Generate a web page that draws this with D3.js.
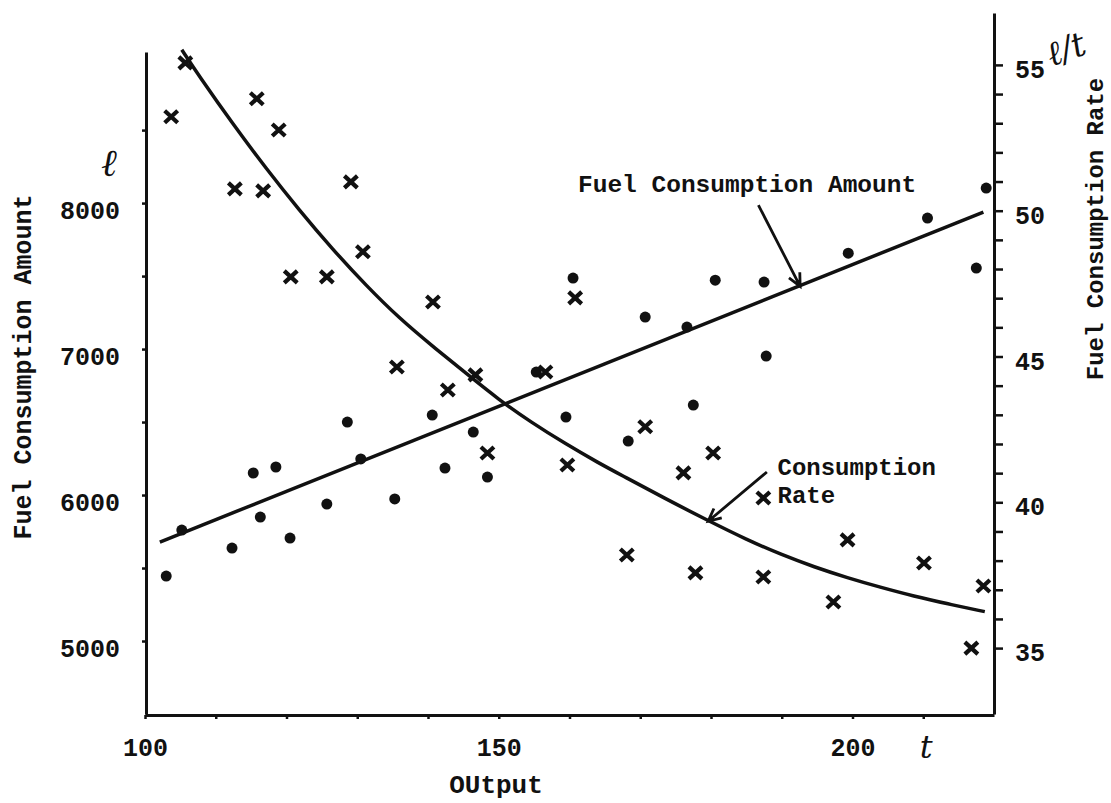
<!DOCTYPE html>
<html>
<head>
<meta charset="utf-8">
<script src="https://cdn.jsdelivr.net/npm/d3@7"></script>
<style>
    body { margin: 0; background: #fff; }
    text { font-family: "Liberation Mono", monospace; font-weight: bold; fill: #111; }
    .unit { font-family: "DejaVu Serif", serif; font-style: italic; font-weight: normal; }
</style>
</head>
<body>
<svg id="canvas" width="1111" height="803"></svg>
<script>
// observed points: fuel consumption amount (l), left axis
let amountOutput = [103.0, 105.2, 112.3, 115.3, 116.3, 118.5, 120.5, 125.7, 128.6, 130.5,
    135.3, 140.6, 142.4, 146.4, 148.4, 155.3, 159.5, 160.5, 168.3, 170.7,
    176.6, 177.5, 180.6, 187.5, 187.8, 199.4, 210.6, 217.5, 218.9];
let amountValues = [5445, 5760, 5637, 6151, 5849, 6192, 5705, 5938, 6500, 6247,
    5973, 6548, 6185, 6431, 6123, 6842, 6534, 7486, 6370, 7219,
    7151, 6616, 7472, 7459, 6952, 7657, 7897, 7555, 8103];

// observed points: fuel consumption rate (l/t), right axis
let rateOutput = [103.7, 105.7, 115.8, 118.9, 112.7, 116.7, 129.1, 130.8, 120.6, 125.7,
    135.6, 140.7, 142.8, 146.7, 148.4, 156.6, 159.7, 160.8, 170.7, 176.1,
    180.3, 168.1, 177.8, 187.4, 187.4, 199.3, 197.3, 210.1, 218.5, 216.8];
let rateValues = [53.22, 55.07, 53.84, 52.77, 50.75, 50.68, 50.99, 48.59, 47.73, 47.73,
    44.64, 46.87, 43.85, 44.37, 41.69, 44.47, 41.28, 47.01, 42.59, 41.01,
    41.69, 38.19, 37.58, 40.15, 37.44, 38.71, 36.58, 37.92, 37.13, 35.00];

// fitted amount line
let amountFitOutput = [102.1, 218.5];
let amountFitValues = [5678, 7938];

// fitted rate curve
let rateFitOutput = [105.2, 107.7, 112.4, 117.2, 121.8, 126.5, 131.3, 135.9, 140.6, 145.4,
    150.0, 154.6, 159.4, 164.1, 167.9, 173.5, 179.2, 185.2, 189.9, 194.6,
    199.3, 203.9, 208.7, 213.4, 218.7];
let rateFitValues = [55.52, 54.60, 52.98, 51.42, 50.02, 48.68, 47.42, 46.32, 45.36, 44.42,
    43.52, 42.74, 42.01, 41.35, 40.86, 40.13, 39.42, 38.70, 38.21, 37.78,
    37.41, 37.09, 36.78, 36.52, 36.25];

// ticks
let outputTicks = [100, 110, 120, 130, 140, 150, 160, 170, 180, 190, 200, 210];
let outputLabels = [100, 150, 200];
let amountTicks = [5000, 5500, 6000, 6500, 7000, 7500, 8000, 8500];
let amountLabels = [5000, 6000, 7000, 8000];
let rateTicks = d3.range(35, 56);
let rateLabels = [35, 40, 45, 50, 55];

let canvas = d3.select("#canvas");

let xScale = d3.scaleLinear().domain([100, 220]).range([145, 994]);
let yAmount = d3.scaleLinear().domain([4500, 9035]).range([714, 52]);
let yRate = d3.scaleLinear().domain([32.74, 56.78]).range([714, 13]);

// axes
let xAxis = d3.axisBottom(xScale)
    .tickValues(outputTicks)
    .tickSize(4).tickSizeOuter(0).tickPadding(14)
    .tickFormat((d) => outputLabels.includes(d) ? d : '');
let leftAxis = d3.axisLeft(yAmount)
    .tickValues(amountTicks)
    .tickSize(4).tickSizeOuter(0).tickPadding(22)
    .tickFormat((d) => amountLabels.includes(d) ? d : '');
let rightAxis = d3.axisRight(yRate)
    .tickValues(rateTicks)
    .tickSize(9).tickSizeOuter(0).tickPadding(12)
    .tickFormat((d) => rateLabels.includes(d) ? d : '');

let gx = canvas.append('g').attr('transform', 'translate(0,715)').call(xAxis);
let gl = canvas.append('g').attr('transform', 'translate(146,0)').call(leftAxis);
let gr = canvas.append('g').attr('transform', 'translate(994,0)').call(rightAxis);

[gx, gl, gr].forEach((g) => {
    g.attr('font-size', null).attr('font-family', null);
    g.select('.domain').attr('stroke', '#111').attr('stroke-width', 3);
    g.selectAll('.tick line').attr('stroke', '#111').attr('stroke-width', 2.5);
    g.selectAll('.tick text')
        .attr('fill', '#111')
        .style('font-size', '25px');
});
gx.selectAll('.tick text').attr('dy', '0.9em');
gl.selectAll('.tick text').attr('dy', '0.6em');
gr.selectAll('.tick text').attr('dy', '0.5em');

// fitted curves
let amountLine = d3.line()
    .x((d, i) => xScale(amountFitOutput[i]))
    .y((d, i) => yAmount(amountFitValues[i]));
canvas.append('path')
    .attr('d', amountLine(amountFitOutput))
    .attr('fill', 'none').attr('stroke', '#111').attr('stroke-width', 3.5);

let rateLine = d3.line()
    .curve(d3.curveBasis)
    .x((d, i) => xScale(rateFitOutput[i]))
    .y((d, i) => yRate(rateFitValues[i]));
canvas.append('path')
    .attr('d', rateLine(rateFitOutput))
    .attr('fill', 'none').attr('stroke', '#111').attr('stroke-width', 3.5);

// points
canvas.selectAll('.dot')
    .data(amountOutput)
    .enter()
    .append('circle')
    .attr('class', 'dot')
    .attr('cx', (d) => xScale(d))
    .attr('cy', (d, i) => yAmount(amountValues[i]))
    .attr('r', 5.5)
    .attr('fill', '#111');

canvas.selectAll('.cross')
    .data(rateOutput)
    .enter()
    .append('path')
    .attr('class', 'cross')
    .attr('transform', (d, i) => 'translate(' + xScale(d) + ',' + yRate(rateValues[i]) + ')')
    .attr('d', 'M-6.5,-6L6.5,6M6.5,-6L-6.5,6')
    .attr('stroke', '#111').attr('stroke-width', 4.2);

// annotation arrows
let arrow = (x1, y1, x2, y2) => {
    let a = Math.atan2(y2 - y1, x2 - x1);
    let len = 14, spread = 0.45;
    canvas.append('path')
        .attr('d', 'M' + x1 + ',' + y1 + 'L' + x2 + ',' + y2 +
            'M' + (x2 - len * Math.cos(a - spread)) + ',' + (y2 - len * Math.sin(a - spread)) +
            'L' + x2 + ',' + y2 +
            'L' + (x2 - len * Math.cos(a + spread)) + ',' + (y2 - len * Math.sin(a + spread)))
        .attr('fill', 'none').attr('stroke', '#111').attr('stroke-width', 2.8);
};
arrow(xScale(186.7), yAmount(7986), xScale(192.6), yAmount(7430));
arrow(xScale(187.9), yRate(41.04), xScale(179.6), yRate(39.35));

canvas.append('text')
    .attr('x', xScale(161.2)).attr('y', yAmount(8075))
    .style('font-size', '24.5px')
    .text('Fuel Consumption Amount');
canvas.append('text')
    .attr('x', xScale(189.4)).attr('y', yRate(40.94))
    .style('font-size', '24px')
    .text('Consumption');
canvas.append('text')
    .attr('x', xScale(189.4)).attr('y', yRate(39.98))
    .style('font-size', '24px')
    .text('Rate');

// axis titles and units
canvas.append('text')
    .attr('transform', 'translate(31,367) rotate(-90)')
    .attr('text-anchor', 'middle')
    .style('font-size', '25px')
    .text('Fuel Consumption Amount');
canvas.append('text')
    .attr('transform', 'translate(1103,229) rotate(-90)')
    .attr('text-anchor', 'middle')
    .style('font-size', '24px')
    .text('Fuel Consumption Rate');
canvas.append('text')
    .attr('x', 496).attr('y', 793)
    .attr('text-anchor', 'middle')
    .style('font-size', '26px')
    .text('OUtput');

canvas.append('text').attr('class', 'unit')
    .attr('x', 109).attr('y', 176)
    .attr('text-anchor', 'middle')
    .style('font-size', '38px')
    .text('ℓ');
canvas.append('text').attr('class', 'unit')
    .attr('transform', 'translate(1070,60) rotate(-20)')
    .attr('text-anchor', 'middle')
    .style('font-size', '34px')
    .text('ℓ/t');
canvas.append('text').attr('class', 'unit')
    .attr('x', xScale(210) + 3).attr('y', 758)
    .attr('text-anchor', 'middle')
    .style('font-size', '32px')
    .text('t');
</script>
</body>
</html>
